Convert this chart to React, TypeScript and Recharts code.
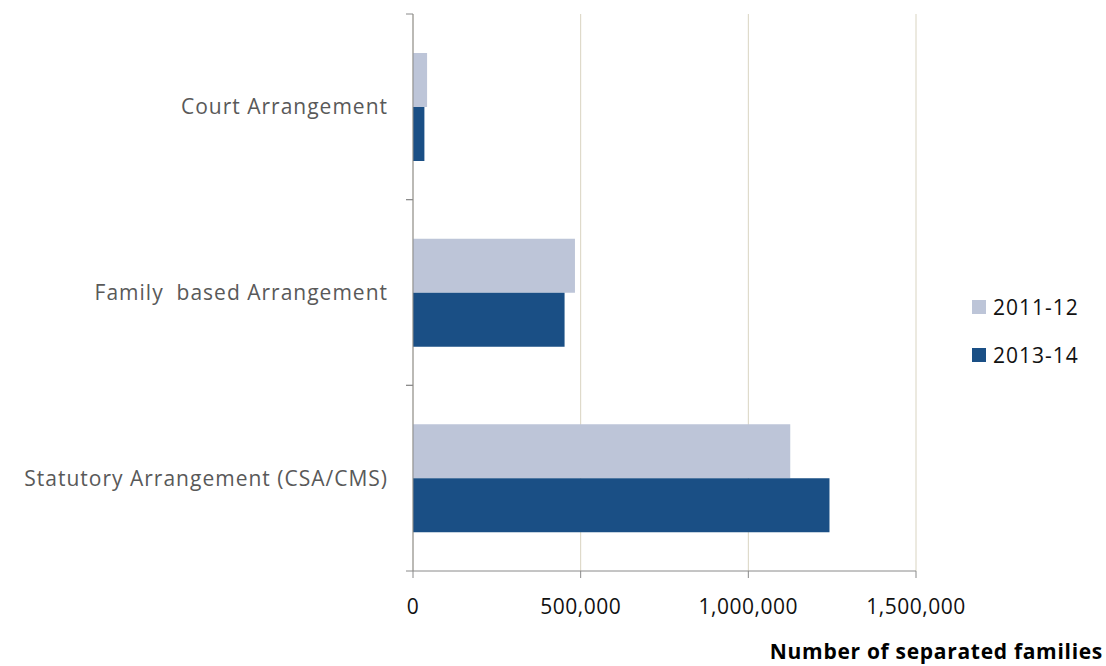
import { BarChart, Bar, XAxis, YAxis, CartesianGrid } from "recharts"

const categories = ["Court Arrangement", "Family  based Arrangement", "Statutory Arrangement (CSA/CMS)"]
const values2011 = [42000, 483000, 1125000]
const values2013 = [34000, 452000, 1242000]
const xTicks = [0, 500000, 1000000, 1500000]
const seriesNames = ["2011-12", "2013-14"]
const seriesColors = ["#bdc5d8", "#1a4f85"]

const data = categories.map((name, i) => ({
  name,
  a: values2011[i],
  b: values2013[i],
}))

const FONT = "'Open Sans', 'Noto Sans', sans-serif"
const AXIS = "#8a8a8a"
const BAND = (571 - 14) / categories.length

function CategoryTick(props: any) {
  const { x, y, payload } = props
  return (
    <g>
      <line x1={x + 25 - 7} x2={x + 25} y1={y - BAND / 2} y2={y - BAND / 2} stroke={AXIS} />
      <line x1={x + 25 - 7} x2={x + 25} y1={y + BAND / 2} y2={y + BAND / 2} stroke={AXIS} />
      <text
        x={x}
        y={y}
        dy="0.35em"
        textAnchor="end"
        fill="#595959"
        fontSize={21}
        fontFamily={FONT}
        letterSpacing={1}
        style={{ whiteSpace: "pre" }}
      >
        {payload.value}
      </text>
    </g>
  )
}

function LegendBox() {
  return (
    <div style={{ position: "absolute", left: 972, top: 283, fontFamily: FONT, fontSize: 21, letterSpacing: 1, color: "#111" }}>
      {seriesNames.map((s, i) => (
        <div key={s} style={{ display: "flex", alignItems: "center", height: 48 }}>
          <span style={{ width: 14, height: 14, background: seriesColors[i], marginRight: 7, display: "inline-block" }} />
          {s}
        </div>
      ))}
    </div>
  )
}

export default function App() {
  return (
    <div style={{ position: "absolute", left: 0, top: 0, width: 1106, height: 666, background: "#fff" }}>
      <BarChart
        width={1106}
        height={666}
        data={data}
        layout="vertical"
        margin={{ top: 14, right: 190, bottom: 0, left: 0 }}
        barCategoryGap="21%"
        barGap={0}
      >
        <CartesianGrid horizontal={false} stroke="#d9d4c1" />
        <XAxis
          type="number"
          domain={[0, 1500000]}
          ticks={xTicks}
          interval={0}
          tickFormatter={(v: number) => v.toLocaleString("en-US")}
          stroke={AXIS}
          tickSize={7}
          tickMargin={21}
          tick={{ fill: "#111", fontSize: 21, fontFamily: FONT, letterSpacing: 0.5 }}
          height={95}
          label={{
            content: () => (
              <text
                x={1103}
                y={659}
                textAnchor="end"
                fontWeight="bold"
                fontSize={21}
                letterSpacing={0.7}
                fontFamily={FONT}
                fill="#000"
              >
                Number of separated families
              </text>
            ),
          }}
        />
        <YAxis
          type="category"
          dataKey="name"
          width={413}
          stroke={AXIS}
          tickLine={false}
          tickSize={0}
          tickMargin={25}
          tick={<CategoryTick />}
          interval={0}
        />
        <Bar dataKey="a" name={seriesNames[0]} fill={seriesColors[0]} isAnimationActive={false} />
        <Bar dataKey="b" name={seriesNames[1]} fill={seriesColors[1]} isAnimationActive={false} />
      </BarChart>
      <LegendBox />
    </div>
  )
}
